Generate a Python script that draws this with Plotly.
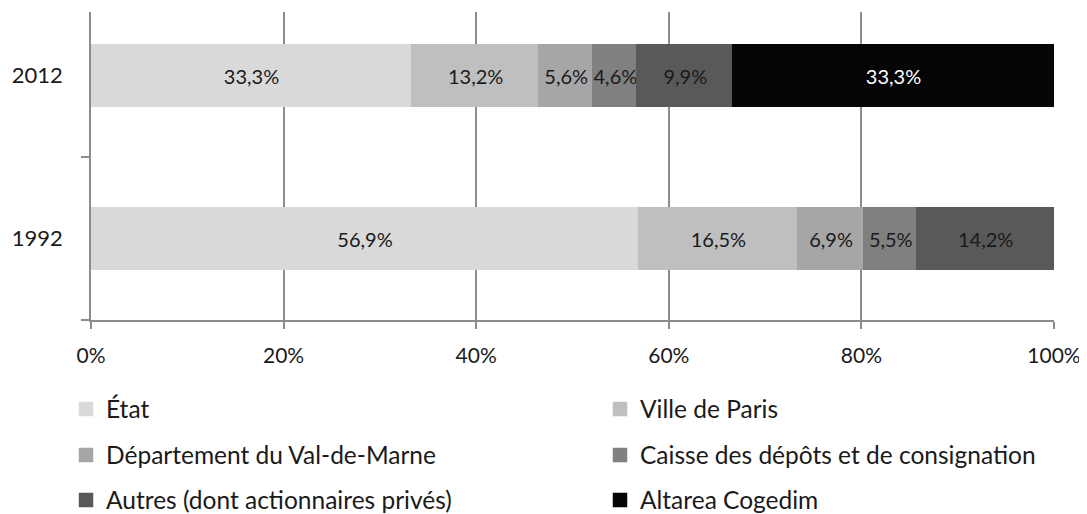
import plotly.graph_objects as go

years = ["1992", "2012"]
series_names = ["État", "Ville de Paris", "Département du Val-de-Marne",
                "Caisse des dépôts et de consignation",
                "Autres (dont actionnaires privés)", "Altarea Cogedim"]
vals_1992 = [56.9, 16.5, 6.9, 5.5, 14.2, 0.0]
vals_2012 = [33.3, 13.2, 5.6, 4.6, 9.9, 33.3]
colors = ["#d9d9d9", "#bfbfbf", "#a6a6a6", "#808080", "#595959", "#050505"]
text_colors = ["#1a1a1a", "#1a1a1a", "#1a1a1a", "#1a1a1a", "#1a1a1a", "#ffffff"]
x_ticks = [0, 20, 40, 60, 80, 100]
x_ticktext = ["0%", "20%", "40%", "60%", "80%", "100%"]

FONT = "Lato"
# page has an 8px body margin in the browser
W, H = 1079, 506

def fmt(v):
    return "" if not v else f"{v:.1f}%".replace(".", ",")

# legend layout: 2 columns x 3 rows (page pixel positions of symbol centres)
leg_cols_x = [86, 620]
leg_rows_y = [409, 455, 500]
legend_ids = ["legend", "legend2", "legend3", "legend4", "legend5", "legend6"]

fig = go.Figure()
for i, name in enumerate(series_names):
    v = [vals_1992[i], vals_2012[i]]
    v_plot = [a if a else None for a in v]  # no zero-width segment
    fig.add_trace(go.Bar(
        y=years, x=v_plot, name=name, orientation="h",
        marker=dict(color=colors[i], line=dict(width=2.5, color=colors[i])),
        text=[fmt(a) for a in v], texttemplate="%{text}",
        textposition="inside", insidetextanchor="middle", textangle=0,
        constraintext="none",
        textfont=dict(family=FONT, size=20, color=text_colors[i]),
        width=0.375, legend=legend_ids[i],
    ))

legends = {}
for i, lid in enumerate(legend_ids):
    col, row = i % 2, i // 2
    sym_x = leg_cols_x[col] - 8  # page -> figure coords
    y = leg_rows_y[row] - 8
    legends[lid] = dict(
        orientation="h", xref="container", yref="container",
        xanchor="left", yanchor="middle",
        x=(sym_x - 20) / W, y=1 - y / H,
        font=dict(family=FONT, size=24.5, color="#1a1a1a"),
        bgcolor="rgba(0,0,0,0)", borderwidth=0,
        itemclick=False, itemdoubleclick=False,
    )

fig.update_layout(
    width=W, height=H,
    margin=dict(l=83, r=33, t=4, b=194),
    barmode="stack", barnorm="percent",
    plot_bgcolor="white", paper_bgcolor="white",
    font=dict(family=FONT, size=18, color="#1a1a1a"),
    showlegend=True,
    **legends,
    xaxis=dict(range=[0, 100], tickvals=x_ticks, ticktext=x_ticktext,
               showgrid=True, gridcolor="#8c8c8c", gridwidth=1.5,
               showline=True, linecolor="#8c8c8c", linewidth=1.5,
               ticks="outside", ticklen=7, tickcolor="#8c8c8c", tickwidth=1.5,
               ticklabelstandoff=9,
               zeroline=False, fixedrange=True,
               tickfont=dict(family=FONT, size=21, color="#1a1a1a")),
    yaxis=dict(type="category", categoryorder="array", categoryarray=years,
               range=[-0.5, 1.39], showgrid=False,
               showline=True, linecolor="#8c8c8c", linewidth=1.5,
               ticks="outside", ticklen=8, tickcolor="#8c8c8c", tickwidth=1.5,
               tickson="boundaries", ticklabelstandoff=22, fixedrange=True,
               tickfont=dict(family=FONT, size=22, color="#1a1a1a")),
)

fig.write_html("out.html")
